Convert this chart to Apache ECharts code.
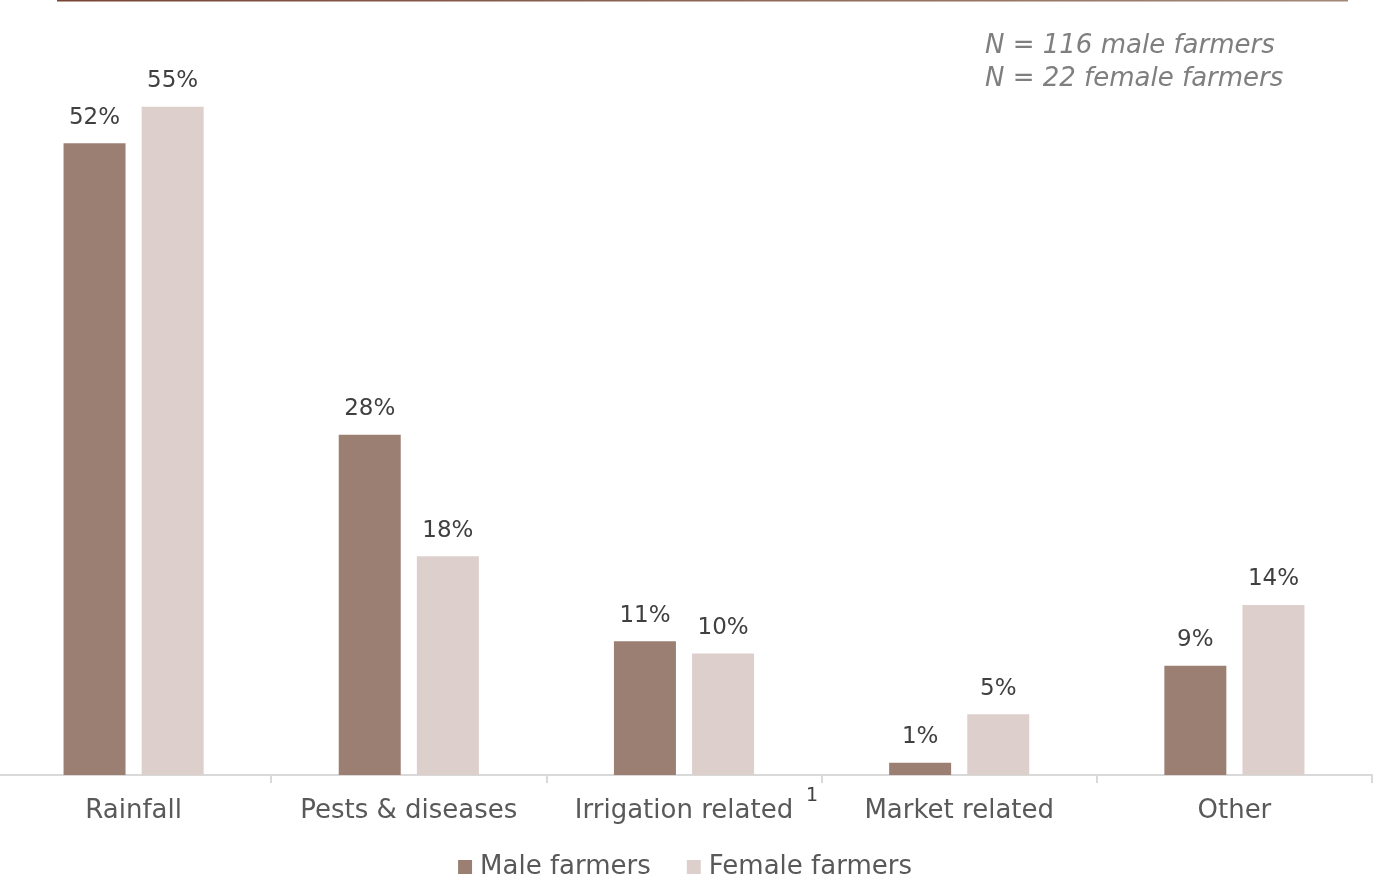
<!DOCTYPE html>
<html>
<head>
<meta charset="utf-8">
<script src="https://cdn.jsdelivr.net/npm/echarts@6/dist/echarts.min.js"></script>
<style>
  html, body { margin: 0; padding: 0; background: #ffffff; overflow: hidden; }
  /* plot area starts slightly left of the page edge */
  #chart { width: 1378px; height: 879px; margin-left: -4px; }
</style>
</head>
<body>
<div id="chart"></div>
<script>
// Main challenges reported by farmers, by gender (% of farmers)
const categories = ['Rainfall', 'Pests & diseases', 'Irrigation related', 'Market related', 'Other'];
const maleValues = [52, 28, 11, 1, 9];
const femaleValues = [55, 18, 10, 5, 14];
const seriesNames = ['Male farmers', 'Female farmers'];
const sampleNotes = ['N = 116 male farmers', 'N = 22 female farmers'];

const FONT = '"DejaVu Sans", "Noto Sans", sans-serif';
const MALE_COLOR = '#9c7f73';
const FEMALE_COLOR = '#ddcfcb';
const OFFSET = 4; // container shift, in px

const chart = echarts.init(document.getElementById('chart'), null, { renderer: 'canvas' });

const valueLabel = {
  show: true,
  position: 'top',
  distance: 14,
  color: '#404040',
  fontFamily: FONT,
  fontSize: 23,
  formatter: p => p.value + '%'
};

chart.setOption({
  animation: false,
  backgroundColor: '#ffffff',
  textStyle: { fontFamily: FONT },
  grid: { left: 0, right: 2, top: 46, bottom: 104, containLabel: false },
  legend: {
    top: 849,
    left: 'center',
    itemWidth: 14,
    itemHeight: 14,
    itemGap: 36,
    icon: 'rect',
    textStyle: { color: '#595959', fontSize: 26, fontFamily: FONT, padding: [0, 0, 0, 3] },
    data: seriesNames
  },
  xAxis: {
    type: 'category',
    data: categories,
    axisLine: { show: true, lineStyle: { color: '#d9d9d9', width: 2 } },
    axisTick: { show: true, interval: 0, length: 8, lineStyle: { color: '#d9d9d9', width: 2 } },
    axisLabel: { interval: 0, hideOverlap: false, color: '#595959', fontSize: 26, fontFamily: FONT, margin: 23 }
  },
  yAxis: {
    type: 'value',
    min: 0,
    max: 60,
    show: false,
    splitLine: { show: false }
  },
  series: [
    {
      name: seriesNames[0],
      type: 'bar',
      data: maleValues,
      barWidth: 62,
      barGap: '26%',
      itemStyle: { color: MALE_COLOR },
      label: valueLabel
    },
    {
      name: seriesNames[1],
      type: 'bar',
      data: femaleValues,
      barWidth: 62,
      itemStyle: { color: FEMALE_COLOR },
      label: valueLabel
    }
  ],
  graphic: [
    {
      type: 'line',
      shape: { x1: 57 + OFFSET, y1: 0.5, x2: 1348 + OFFSET, y2: 0.5 },
      style: {
        lineWidth: 2,
        stroke: new echarts.graphic.LinearGradient(0, 0, 1, 0, [
          { offset: 0, color: '#774534' },
          { offset: 1, color: '#a38878' }
        ])
      }
    },
    {
      type: 'text',
      left: 985 + OFFSET,
      top: 30,
      style: {
        text: sampleNotes.join('\n'),
        fill: '#7f7f7f',
        fontSize: 26,
        fontStyle: 'italic',
        fontFamily: FONT,
        lineHeight: 33
      }
    },
    {
      type: 'text',
      left: 806 + OFFSET,
      top: 787,
      style: { text: '1', fill: '#404040', fontSize: 19, fontFamily: FONT }
    }
  ]
});
</script>
</body>
</html>
